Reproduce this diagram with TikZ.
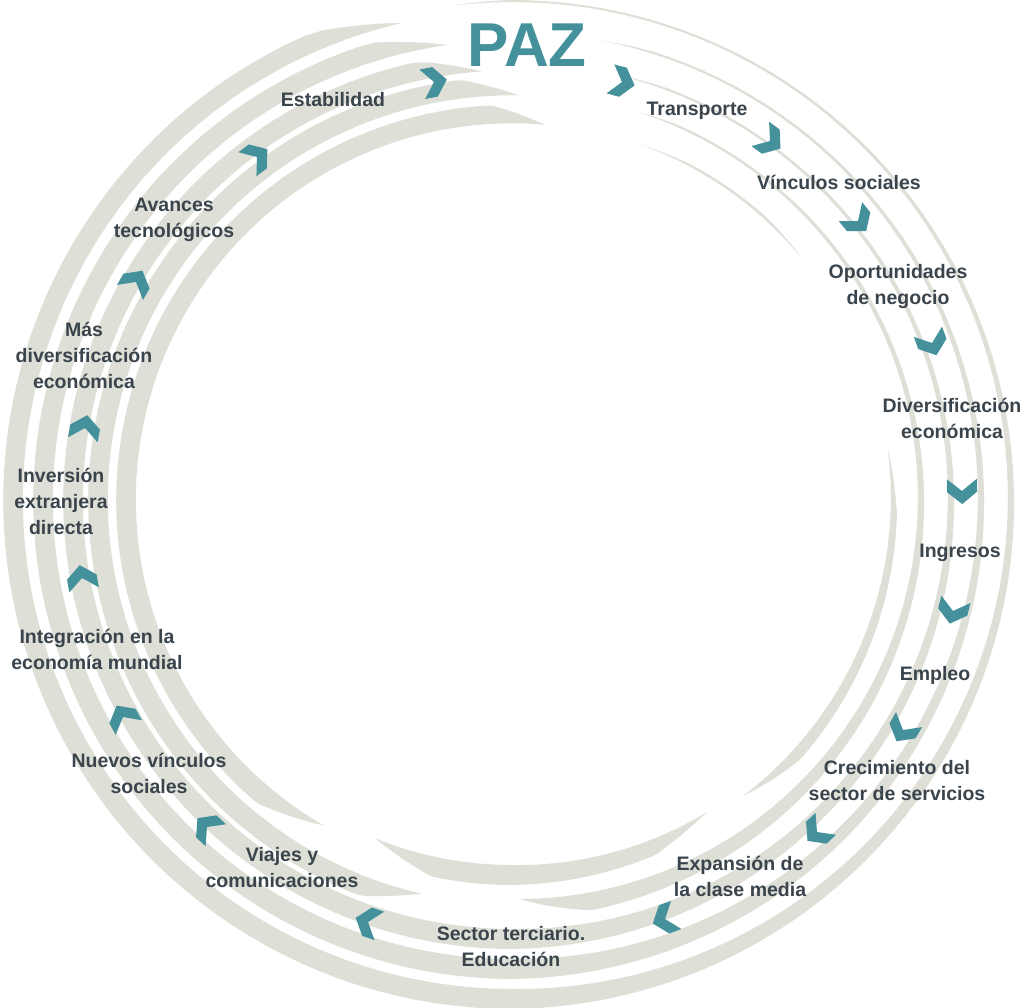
\documentclass[tikz,border=0pt]{standalone}
\usepackage{fontspec}
\setmainfont{Liberation Sans}
\definecolor{pazteal}{HTML}{44919C}
\definecolor{bandgray}{HTML}{DEDFD6}
\definecolor{txtgray}{HTML}{3A444C}
% one brush band: radius, start angle, end angle, start taper, end taper
\newcommand{\band}[5]{%
  \fill[bandfill] plot[domain=#2:#3,samples=160]
    ({512+(#1-wd(\x)/2)*cos(\x)},{500+(#1-wd(\x)/2)*sin(\x)})
  -- plot[domain=#3:#2,samples=160]
    ({512+(#1-wd(\x)/2+wd(\x)*min(1,(\x-(#2))/#4)*min(1,(#3-\x)/#5))*cos(\x)},
     {500+(#1-wd(\x)/2+wd(\x)*min(1,(\x-(#2))/#4)*min(1,(#3-\x)/#5))*sin(\x)})
  -- cycle;}
\tikzset{chev/.pic={\fill[pazteal] (13,0) -- (1,-15) -- (-12,-15) -- (0,0) -- (-12,15) -- (1,15) -- cycle;}}

\begin{document}
\begin{tikzpicture}[x=1pt,y=-1pt,
  declare function={wd(\t)=2+18*(min(1,max(0.001,(\t+85)/175)))^2-1.5*max(0,(\t-150)/120);},
  bandfill/.style={fill=bandgray},
  lab/.style={font=\fontsize{19.5}{26}\selectfont\bfseries,text=txtgray,align=center,inner sep=0pt},
  title/.style={font=\fontsize{62}{62}\selectfont\bfseries,text=pazteal,inner sep=0pt}]
\fill[white] (0,0) rectangle (1033,1007);
\useasboundingbox (0,0) rectangle (1033,1007);
% spiral bands, outer to inner
\band{499}{-97}{257}{6}{10}
\band{469}{-79}{262}{6}{9}
\band{439}{-76}{266}{6}{8}
\band{409}{-72}{89}{6}{10}
\band{414}{103}{271}{8}{8}
\band{379}{-70}{-40}{8}{8}
\band{382}{-8}{52}{10}{10}
\band{375}{58}{112}{10}{10}
\band{386}{120}{275}{10}{8}
% chevrons along the cycle (x/y/heading)
\foreach \px/\py/\dir in {622/82/15, 770/141/36, 858/221/51, 932/343/70, 962/491/89,
    953/611/104, 903/730/120, 817/832/137, 665/919/160, 368/922/199, 207/827/223,
    123/717/241, 82/578/260, 85/428/280, 136/282/300, 257/157/323, 434/82/349}
  \pic[rotate=-\dir] at (\px,\py) {chev};
% labels
\node[title] (paz) at (527,45) {PAZ};
\node[lab] (estab) at (333,100) {Estabilidad};
\node[lab] (transp) at (697,111) {Transporte};
\node[lab] (vinc) at (839,182) {Vínculos sociales};
\node[lab] (oport) at (898,286) {Oportunidades\\de negocio};
\node[lab] (diver) at (952,418) {Diversificación\\económica};
\node[lab] (ingr) at (960,553) {Ingresos};
\node[lab] (empl) at (935,675) {Empleo};
\node[lab] (crec) at (897,781) {Crecimiento del\\sector de servicios};
\node[lab] (expa) at (740,876) {Expansión de\\la clase media};
\node[lab] (terc) at (511,947) {Sector terciario.\\Educación};
\node[lab] (viaj) at (282,868) {Viajes y\\comunicaciones};
\node[lab] (nuev) at (149,773) {Nuevos vínculos\\sociales};
\node[lab] (integ) at (97,649) {Integración en la\\economía mundial};
\node[lab] (inver) at (61,501) {Inversión\\extranjera\\directa};
\node[lab] (mas) at (84,355) {Más\\diversificación\\económica};
\node[lab] (avan) at (174,220) {Avances\\tecnológicos};
\end{tikzpicture}
\end{document}
